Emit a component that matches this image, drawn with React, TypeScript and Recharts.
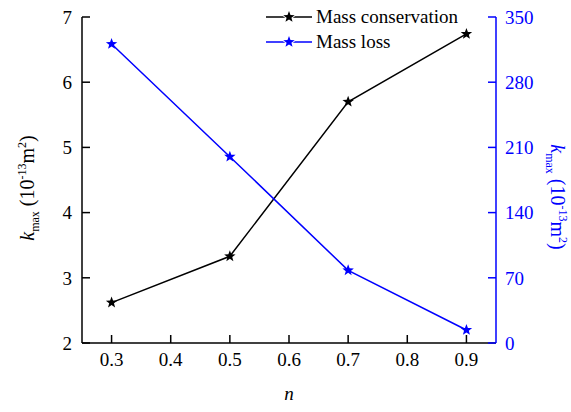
import { LineChart, Line, XAxis, YAxis } from 'recharts';

const nValues = [0.3, 0.5, 0.7, 0.9];
const massConservation = [2.62, 3.33, 5.7, 6.74];
const massLoss = [321, 200, 78, 14];
const xTicks = [0.3, 0.4, 0.5, 0.6, 0.7, 0.8, 0.9];
const leftTicks = [2, 3, 4, 5, 6, 7];
const rightTicks = [0, 70, 140, 210, 280, 350];

const data = nValues.map((n, i) => ({ n, cons: massConservation[i], loss: massLoss[i] }));

const FONT = '"Liberation Serif", "Times New Roman", serif';
const BLUE = '#0000ff';

function starPath(cx: number, cy: number, r: number) {
  const pts: string[] = [];
  for (let i = 0; i < 10; i++) {
    const rad = i % 2 === 0 ? r : r * 0.42;
    const a = -Math.PI / 2 + (i * Math.PI) / 5;
    pts.push(`${cx + rad * Math.cos(a)},${cy + rad * Math.sin(a)}`);
  }
  return 'M' + pts.join('L') + 'Z';
}

const Star = (color: string) => (props: any) => {
  const { cx, cy, index } = props;
  if (cx == null || cy == null) return <g key={index} />;
  return <path key={index} d={starPath(cx, cy, 6)} fill={color} stroke="none" />;
};

const AxisTitle = ({ x, cy, angle, color }: { x: number; cy: number; angle: number; color: string }) => (
  <text transform={`translate(${x},${cy}) rotate(${angle})`} textAnchor="middle" fontFamily={FONT} fontSize={20} fill={color}>
    <tspan fontStyle="italic">k</tspan>
    <tspan fontSize={12} dy={5}>max</tspan>
    <tspan dy={-5}> (10</tspan>
    <tspan fontSize={12} dy={-8}>-13</tspan>
    <tspan dy={8}>m</tspan>
    <tspan fontSize={12} dy={-8}>2</tspan>
    <tspan dy={8}>)</tspan>
  </text>
);

const LeftLabel = (props: any) => {
  const { viewBox } = props;
  return <AxisTitle x={34} cy={viewBox.y + viewBox.height / 2 + 8} angle={-90} color="#000" />;
};

const RightLabel = (props: any) => {
  const { viewBox } = props;
  return <AxisTitle x={551} cy={viewBox.y + viewBox.height / 2 + 17} angle={90} color={BLUE} />;
};

const XLabel = (props: any) => {
  const { viewBox } = props;
  return (
    <text x={viewBox.x + viewBox.width / 2} y={400} textAnchor="middle" fontFamily={FONT} fontSize={19} fontStyle="italic" fill="#000">
      n
    </text>
  );
};

const legendItems = [
  { name: 'Mass conservation', color: '#000' },
  { name: 'Mass loss', color: BLUE },
];

const ChartLegend = () => (
  <div style={{ position: 'absolute', left: 266, top: 4, fontFamily: FONT, fontSize: 19, lineHeight: '25px' }}>
    {legendItems.map((item) => (
      <div key={item.name} style={{ display: 'flex', alignItems: 'center', height: 25 }}>
        <svg width={50} height={20}>
          <line x1={0} y1={10} x2={46} y2={10} stroke={item.color} strokeWidth={1.5} />
          <path d={starPath(23, 10, 6)} fill={item.color} stroke="#fff" strokeWidth={2} paintOrder="stroke" />
        </svg>
        <span style={{ color: '#000' }}>{item.name}</span>
      </div>
    ))}
  </div>
);

export default function App() {
  return (
    <div style={{ position: 'absolute', left: 0, top: 0, width: 571, height: 412, background: '#fff' }}>
      <LineChart width={571} height={412} data={data} margin={{ top: 17, right: 25, bottom: 29, left: 32 }}>
        <XAxis
          dataKey="n"
          type="number"
          domain={[0.25, 0.95]}
          ticks={xTicks}
          interval={0}
          tickFormatter={(v: number) => v.toFixed(1)}
          height={40}
          tickSize={-8}
          tickMargin={18}
          axisLine={{ stroke: '#000', strokeWidth: 1.5 }}
          tickLine={{ stroke: '#000', strokeWidth: 1.5 }}
          tick={{ fill: '#000', fontSize: 19, fontFamily: FONT }}
          label={<XLabel />}
        />
        <YAxis
          yAxisId="left"
          domain={[2, 7]}
          ticks={leftTicks}
          interval={0}
          width={50}
          tickSize={-8}
          tickMargin={18}
          axisLine={{ stroke: '#000', strokeWidth: 1.5 }}
          tickLine={{ stroke: '#000', strokeWidth: 1.5 }}
          tick={{ fill: '#000', fontSize: 19, fontFamily: FONT }}
          label={<LeftLabel />}
        />
        <YAxis
          yAxisId="right"
          orientation="right"
          domain={[0, 350]}
          ticks={rightTicks}
          interval={0}
          width={50}
          tickSize={-8}
          tickMargin={17}
          axisLine={{ stroke: BLUE, strokeWidth: 1.5 }}
          tickLine={{ stroke: BLUE, strokeWidth: 1.5 }}
          tick={{ fill: BLUE, fontSize: 19, fontFamily: FONT }}
          label={<RightLabel />}
        />
        <Line
          yAxisId="left"
          dataKey="cons"
          name="Mass conservation"
          stroke="#000"
          strokeWidth={1.5}
          dot={Star('#000')}
          activeDot={false}
          isAnimationActive={false}
        />
        <Line
          yAxisId="right"
          dataKey="loss"
          name="Mass loss"
          stroke={BLUE}
          strokeWidth={1.5}
          dot={Star(BLUE)}
          activeDot={false}
          isAnimationActive={false}
        />
      </LineChart>
      <ChartLegend />
    </div>
  );
}
